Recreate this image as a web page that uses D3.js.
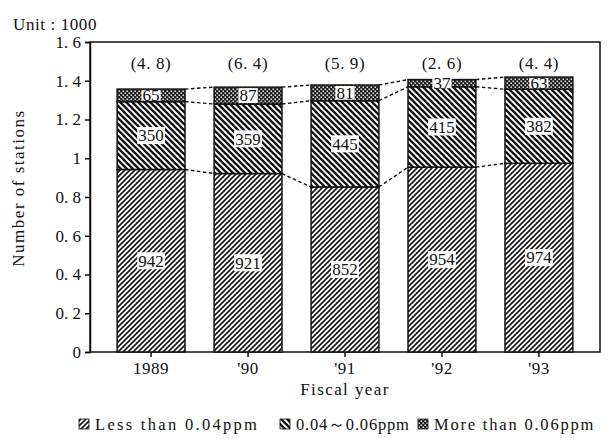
<!DOCTYPE html>
<html><head><meta charset="utf-8">
<script src="https://cdn.jsdelivr.net/npm/d3@7"></script>
<style>body{margin:0;background:#fff}svg text{font-family:"Liberation Serif","DejaVu Serif",serif;fill:#111}</style>
</head><body><svg id="c" width="613" height="446"></svg>
<script>
const years = ["1989", "'90", "'91", "'92", "'93"];
const lessThan004 = [942, 921, 852, 954, 974];
const mid004to006 = [350, 359, 445, 415, 382];
const moreThan006 = [65, 87, 81, 37, 63];
const percentOver = ["(4. 8)", "(6. 4)", "(5. 9)", "(2. 6)", "(4. 4)"];
const yTicks = [0, 0.2, 0.4, 0.6, 0.8, 1, 1.2, 1.4, 1.6];
const seriesNames = ["Less than 0.04ppm", "0.04～0.06ppm", "More than 0.06ppm"];

const svg = d3.select("#c");
const defs = svg.append("defs");
const p1 = defs.append("pattern").attr("id","p1").attr("patternUnits","userSpaceOnUse").attr("width",5).attr("height",5);
p1.append("rect").attr("width",5).attr("height",5).attr("fill","#fff");
p1.append("path").attr("d","M-1,1 L1,-1 M0,5 L5,0 M4,6 L6,4").attr("stroke","#111").attr("stroke-width",1.6);
const p2 = defs.append("pattern").attr("id","p2").attr("patternUnits","userSpaceOnUse").attr("width",6).attr("height",6);
p2.append("rect").attr("width",6).attr("height",6).attr("fill","#fff");
p2.append("path").attr("d","M-1,5 L1,7 M0,0 L6,6 M5,-1 L7,1").attr("stroke","#111").attr("stroke-width",2.3);
const p3 = defs.append("pattern").attr("id","p3").attr("patternUnits","userSpaceOnUse").attr("width",4).attr("height",4);
p3.append("rect").attr("width",4).attr("height",4).attr("fill","#222");
p3.append("rect").attr("x",0.5).attr("y",0.5).attr("width",1.4).attr("height",1.4).attr("fill","#fff");
p3.append("rect").attr("x",2.5).attr("y",2.5).attr("width",1.4).attr("height",1.4).attr("fill","#fff");
const fills = ["url(#p1)","url(#p2)","url(#p3)"];

const L=90, R=600, T=42, B=352;
const x = d3.scaleBand().domain(years).range([L,R]).paddingInner(0.3).paddingOuter(0.28);
const y = d3.scaleLinear().domain([0,1.6]).range([B,T]);

const data = years.map((yr,i)=>({yr, vals:[lessThan004[i], mid004to006[i], moreThan006[i]], pct:percentOver[i]}));
data.forEach(d=>{let c=0; d.stack=d.vals.map(v=>{const s=[c,c+v]; c+=v; return s;});});

svg.append("rect").attr("x",L).attr("y",T).attr("width",R-L).attr("height",B-T).attr("fill","none").attr("stroke","#111").attr("stroke-width",1.5);

const fmt = v => v===0 ? "0" : (Number.isInteger(v) ? String(v) : d3.format(".1f")(v).replace(".", ". "));
const ya = svg.append("g").attr("transform",`translate(${L},0)`).call(d3.axisLeft(y).tickValues(yTicks).tickSize(5).tickPadding(4).tickFormat(fmt));
ya.select(".domain").attr("stroke","#111").attr("stroke-width",1.5);
ya.selectAll("line").attr("stroke","#111").attr("stroke-width",1.5);
ya.selectAll("text").style("font-size","17px").attr("fill","#111");

const xa = svg.append("g").attr("transform",`translate(0,${B})`).call(d3.axisBottom(x).tickSize(5).tickPadding(5));
xa.select(".domain").remove();
xa.selectAll("line").attr("stroke","#111").attr("stroke-width",1.5);
xa.selectAll("text").style("font-size","17px").style("letter-spacing","0.5px").attr("fill","#111");

for (let i=0;i<data.length-1;i++){
  const a=data[i], b=data[i+1];
  for (let k=0;k<3;k++){
    svg.append("line").attr("x1",x(a.yr)+x.bandwidth()).attr("x2",x(b.yr))
      .attr("y1",y(a.stack[k][1]/1000)).attr("y2",y(b.stack[k][1]/1000))
      .attr("stroke","#111").attr("stroke-width",1.4).attr("stroke-dasharray","3.5,2.5");
  }
}

const g = svg.append("g");
data.forEach(d=>{
  d.stack.forEach((s,k)=>{
    g.append("rect").attr("x",x(d.yr)).attr("width",x.bandwidth())
      .attr("y",y(s[1]/1000)).attr("height",y(s[0]/1000)-y(s[1]/1000))
      .attr("fill",fills[k]).attr("stroke","#111").attr("stroke-width",1.5);
  });
});
data.forEach(d=>{
  d.stack.forEach((s,k)=>{
    const cx = x(d.yr)+x.bandwidth()/2;
    const cy = y((s[0]+s[1])/2000);
    const txt = String(d.vals[k]);
    const w = txt.length*8.6+2, h = k===2 ? Math.max(10, y(s[0]/1000)-y(s[1]/1000)-2) : 17;
    g.append("rect").attr("x",cx-w/2).attr("y",cy-h/2).attr("width",w).attr("height",h).attr("fill","#fff");
    g.append("text").attr("x",cx).attr("y",cy).attr("dy","0.34em").attr("text-anchor","middle").style("font-size","17px").text(txt);
  });
  svg.append("text").attr("x",x(d.yr)+x.bandwidth()/2).attr("y",69).attr("text-anchor","middle").style("font-size","17px").style("letter-spacing","0.6px").text(d.pct);
});

svg.append("text").attr("x",13).attr("y",30).style("font-size","17px").style("letter-spacing","0.6px").text("Unit : 1000");
svg.append("text").attr("transform","translate(24,188) rotate(-90)").attr("text-anchor","middle").style("font-size","17px").style("letter-spacing","1.5px").text("Number of stations");
svg.append("text").attr("x",345).attr("y",395).attr("text-anchor","middle").style("font-size","17px").style("letter-spacing","1.4px").text("Fiscal year");

const lx = [79, 280, 418];
const ls = [2.3, 0.8, 1.8];
seriesNames.forEach((n,k)=>{
  svg.append("rect").attr("x",lx[k]).attr("y",419).attr("width",10).attr("height",10).attr("fill",fills[k]).attr("stroke","#111").attr("stroke-width",0.8);
  svg.append("text").attr("x",lx[k]+16).attr("y",430).style("font-size","16.5px").style("letter-spacing",ls[k]+"px").text(n);
});
</script></body></html>
